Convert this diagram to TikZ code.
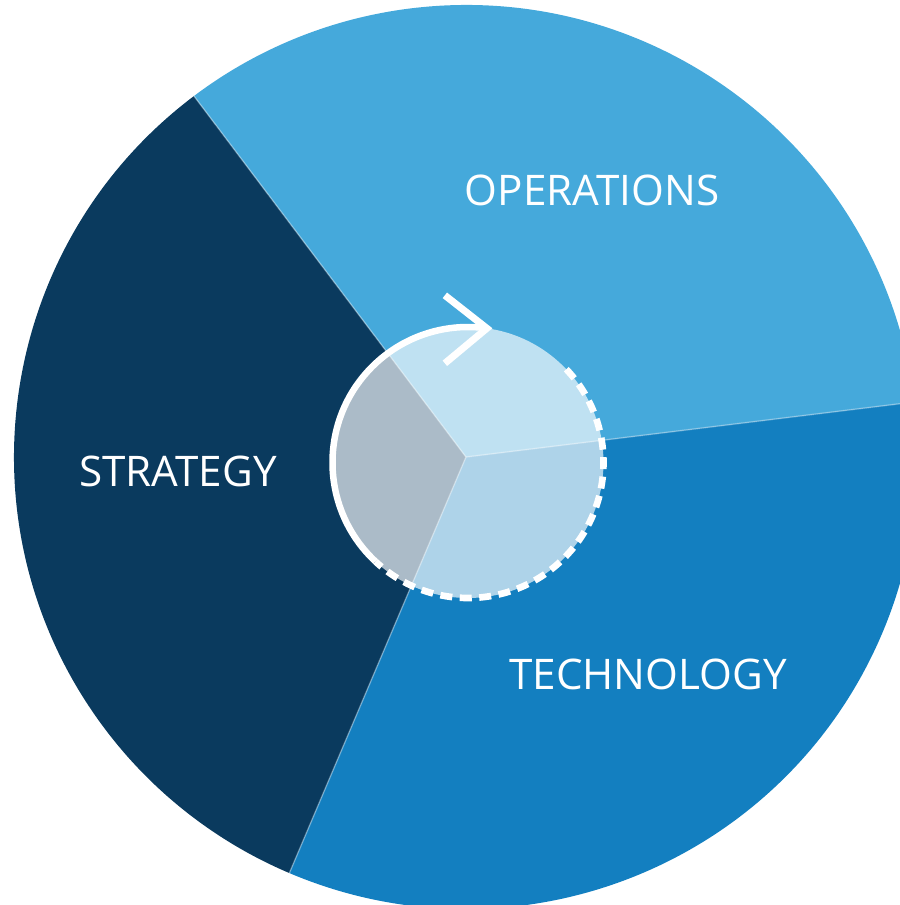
\documentclass[tikz,border=0pt]{standalone}
\usepackage{fontspec}
\setmainfont{Open Sans}
\usepackage{tikz}
\usetikzlibrary{calc}
\definecolor{strategyblue}{HTML}{0A3A5E}
\definecolor{operationsblue}{HTML}{45A9DB}
\definecolor{technologyblue}{HTML}{137FC0}
\def\sector[#1](#2)(#3:#4:#5){\fill[#1] (#2) -- ($(#2)+(#3:#5)$) arc (#3:#4:#5) -- cycle;}

\begin{document}
\begin{tikzpicture}[sectorlabel/.style={text=white, inner sep=0pt, font=\fontsize{12}{14}\selectfont}]
	%%%%% START %%%%%
	
	\useasboundingbox (0, 0) rectangle (9, 9.05);
	\clip (0, 0) rectangle (9, 9.05);
	
	\coordinate (c) at (4.66, 4.48);
	\coordinate (ring) at (4.68, 4.425);
	
	\sector[strategyblue](c)(127:247:4.52)
	\sector[operationsblue](c)(7:127:4.52)
	\sector[technologyblue](c)(-113:7:4.52)
	
	\draw[white, opacity=0.35, line width=0.4pt] (c) -- ($(c)+(127:4.52)$);
	\draw[white, opacity=0.35, line width=0.4pt] (c) -- ($(c)+(7:4.52)$);
	\draw[white, opacity=0.35, line width=0.4pt] (c) -- ($(c)+(247:4.52)$);
	
	\fill[white, fill opacity=0.66] (ring) circle (1.355);
	
	\draw[white, line width=1.85pt] ($(ring)+(227:1.355)$) arc (227:82:1.355) coordinate (tip);
	\draw[white, line width=2pt, line join=miter] (tip) ++(-0.42, 0.33) -- (tip) -- ++(-0.42, -0.35);
	\draw[white, line width=1.9pt, dash pattern=on 0.12cm off 0.075cm] ($(ring)+(43.5:1.355)$) arc (43.5:-133:1.355);
	
	\node[sectorlabel] (operations) at (5.92, 7.15) {OPERATIONS};
	\node[sectorlabel] (strategy) at (1.78, 4.34) {STRATEGY};
	\node[sectorlabel] (technology) at (6.48, 2.31) {TECHNOLOGY};
	
	%%%%% END %%%%%
\end{tikzpicture}
\end{document}
